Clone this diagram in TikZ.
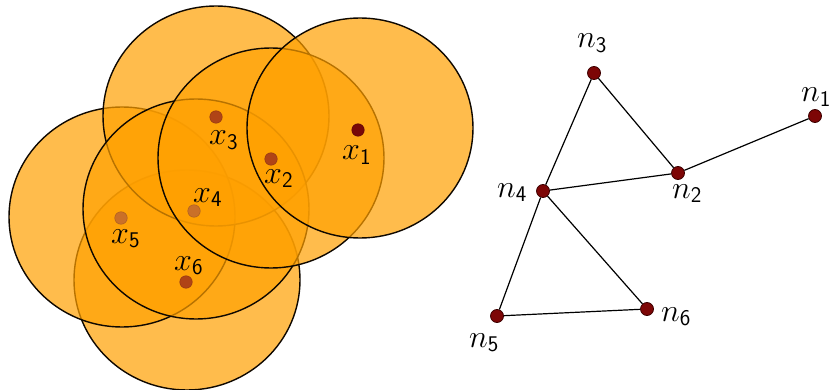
\RequirePackage{fix-cm}
\documentclass[tikz,border=0pt]{standalone}
\usetikzlibrary{shapes.geometric}

\definecolor{discfill}{RGB}{255,160,0}
\definecolor{discrim}{RGB}{15,8,0}
\definecolor{vertfill}{RGB}{125,6,6}
\definecolor{vertrim}{RGB}{60,0,0}
\definecolor{sA}{RGB}{120,8,8}
\definecolor{sB}{RGB}{176,68,22}
\definecolor{sC}{RGB}{202,112,40}

\tikzset{
  disc/.style={ellipse, inner sep=0pt, minimum width=226pt, minimum height=220pt,
    draw=discrim, line width=1.4pt, fill=discfill, fill opacity=0.7},
  sensor/.style={circle, inner sep=0pt, minimum size=12.5pt, line width=0.5pt},
  vtx/.style={circle, inner sep=0pt, minimum size=13pt, fill=vertfill,
    draw=vertrim, line width=0.8pt},
  edge/.style={line width=1.2pt, black},
  lab/.style={anchor=base west, inner sep=0pt, font=\fontsize{32}{36}\selectfont},
}

\begin{document}
\begin{tikzpicture}[x=1pt, y=-1pt]
  \useasboundingbox (0,0) rectangle (832,390);

  % coverage discs, later ones lie over earlier ones
  \node[disc] (r6) at (187,280) {};
  \node[disc] (r5) at (122,217) {};
  \node[disc] (r3) at (216,116) {};
  \node[disc] (r4) at (196,209) {};
  \node[disc] (r2) at (271,158) {};
  \node[disc] (r1) at (360,128) {};

  % sensor positions
  \node[sensor, fill=sA, draw=sA!80!black] (x1) at (358,130) {};
  \node[sensor, fill=sB, draw=sB!85!black] (x2) at (271,159) {};
  \node[sensor, fill=sB, draw=sB!85!black] (x3) at (216,117) {};
  \node[sensor, fill=sC, draw=sC!85!black] (x4) at (194,211) {};
  \node[sensor, fill=sC, draw=sC!85!black] (x5) at (121,218) {};
  \node[sensor, fill=sB, draw=sB!85!black] (x6) at (186,282) {};

  \node[lab] (lx1) at (342,160) {$x_{\mathsf{1}}$};
  \node[lab] (lx2) at (264,183) {$x_{\mathsf{2}}$};
  \node[lab] (lx3) at (209,145) {$x_{\mathsf{3}}$};
  \node[lab] (lx4) at (193,202) {$x_{\mathsf{4}}$};
  \node[lab] (lx5) at (111,243) {$x_{\mathsf{5}}$};
  \node[lab] (lx6) at (174,270) {$x_{\mathsf{6}}$};

  % communication graph
  \node[vtx] (n1) at (815,116) {};
  \node[vtx] (n2) at (678,173) {};
  \node[vtx] (n3) at (594,73) {};
  \node[vtx] (n4) at (543,191) {};
  \node[vtx] (n5) at (497,316) {};
  \node[vtx] (n6) at (647,309) {};

  \draw[edge] (n3) -- (n4);
  \draw[edge] (n3) -- (n2);
  \draw[edge] (n2) -- (n1);
  \draw[edge] (n4) -- (n2);
  \draw[edge] (n4) -- (n5);
  \draw[edge] (n4) -- (n6);
  \draw[edge] (n5) -- (n6);

  \node[lab] (ln1) at (801,102) {$n_{\mathsf{1}}$};
  \node[lab] (ln2) at (672,198) {$n_{\mathsf{2}}$};
  \node[lab] (ln3) at (577,48) {$n_{\mathsf{3}}$};
  \node[lab] (ln4) at (497,197) {$n_{\mathsf{4}}$};
  \node[lab] (ln5) at (469,347) {$n_{\mathsf{5}}$};
  \node[lab] (ln6) at (661,321) {$n_{\mathsf{6}}$};
\end{tikzpicture}
\end{document}
